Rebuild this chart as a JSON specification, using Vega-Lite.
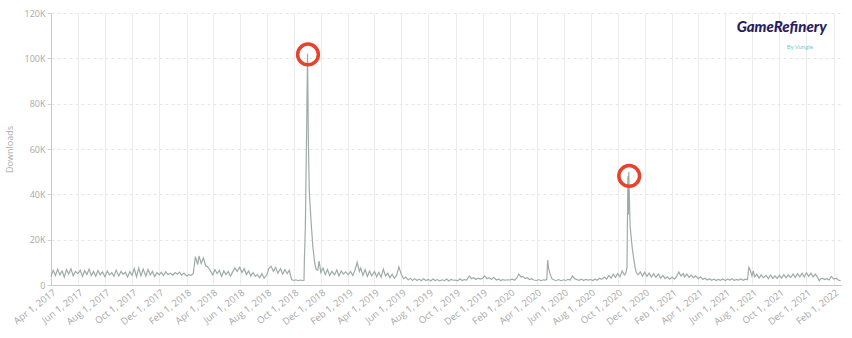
{
"$schema": "https://vega.github.io/schema/vega-lite/v6.json",
"width": 790,
"height": 272,
"padding": {"left": 5, "top": 9, "right": 10, "bottom": 0},
"background": "white",
"config": {"view": {"stroke": null}, "font": "Open Sans"},
"datasets": {
"dl": [
{"d":"2017-04-01","v":3800},{"d":"2017-04-06","v":6500},{"d":"2017-04-11","v":4200},{"d":"2017-04-16","v":7000},{"d":"2017-04-21","v":4500},{"d":"2017-04-26","v":6200},
{"d":"2017-05-01","v":3500},{"d":"2017-05-06","v":6800},{"d":"2017-05-11","v":4800},{"d":"2017-05-16","v":7200},{"d":"2017-05-21","v":4000},{"d":"2017-05-26","v":6000},
{"d":"2017-06-01","v":5000},{"d":"2017-06-06","v":6500},{"d":"2017-06-11","v":3800},{"d":"2017-06-16","v":6300},{"d":"2017-06-21","v":4600},{"d":"2017-06-26","v":7000},
{"d":"2017-07-01","v":4200},{"d":"2017-07-06","v":6000},{"d":"2017-07-11","v":3900},{"d":"2017-07-16","v":6400},{"d":"2017-07-21","v":4500},{"d":"2017-07-26","v":5800},
{"d":"2017-08-01","v":3600},{"d":"2017-08-06","v":6200},{"d":"2017-08-11","v":4400},{"d":"2017-08-16","v":5500},{"d":"2017-08-21","v":3800},{"d":"2017-08-26","v":6600},
{"d":"2017-09-01","v":4000},{"d":"2017-09-06","v":6000},{"d":"2017-09-11","v":4700},{"d":"2017-09-16","v":5600},{"d":"2017-09-21","v":3500},{"d":"2017-09-26","v":5900},
{"d":"2017-10-01","v":4300},{"d":"2017-10-06","v":7200},{"d":"2017-10-11","v":3600},{"d":"2017-10-16","v":7500},{"d":"2017-10-21","v":4100},{"d":"2017-10-26","v":7000},
{"d":"2017-11-01","v":3900},{"d":"2017-11-06","v":6800},{"d":"2017-11-11","v":4400},{"d":"2017-11-16","v":6000},{"d":"2017-11-21","v":3700},{"d":"2017-11-26","v":5500},
{"d":"2017-12-01","v":4500},{"d":"2017-12-06","v":5600},{"d":"2017-12-11","v":4200},{"d":"2017-12-16","v":5800},{"d":"2017-12-21","v":4600},{"d":"2017-12-26","v":5200},
{"d":"2018-01-01","v":4300},{"d":"2018-01-06","v":5500},{"d":"2018-01-11","v":4800},{"d":"2018-01-16","v":5700},{"d":"2018-01-21","v":4400},{"d":"2018-01-26","v":5300},
{"d":"2018-02-01","v":4000},{"d":"2018-02-06","v":4600},{"d":"2018-02-11","v":4300},{"d":"2018-02-16","v":5000},{"d":"2018-02-21","v":12500},{"d":"2018-02-26","v":9000},
{"d":"2018-03-01","v":12800},{"d":"2018-03-06","v":9500},{"d":"2018-03-11","v":12000},{"d":"2018-03-16","v":8500},{"d":"2018-03-21","v":8000},{"d":"2018-03-26","v":6500},
{"d":"2018-04-01","v":4500},{"d":"2018-04-06","v":6800},{"d":"2018-04-11","v":5000},{"d":"2018-04-16","v":6500},{"d":"2018-04-21","v":3800},{"d":"2018-04-26","v":6200},
{"d":"2018-05-01","v":4600},{"d":"2018-05-06","v":6000},{"d":"2018-05-11","v":3900},{"d":"2018-05-16","v":5800},{"d":"2018-05-21","v":7500},{"d":"2018-05-26","v":6000},
{"d":"2018-06-01","v":7800},{"d":"2018-06-06","v":5500},{"d":"2018-06-11","v":7200},{"d":"2018-06-16","v":4600},{"d":"2018-06-21","v":6200},{"d":"2018-06-26","v":4000},
{"d":"2018-07-01","v":5500},{"d":"2018-07-06","v":3800},{"d":"2018-07-11","v":4600},{"d":"2018-07-16","v":3200},{"d":"2018-07-21","v":5000},{"d":"2018-07-26","v":3000},
{"d":"2018-08-01","v":4500},{"d":"2018-08-06","v":7500},{"d":"2018-08-11","v":8200},{"d":"2018-08-16","v":6000},{"d":"2018-08-21","v":7800},{"d":"2018-08-26","v":5200},
{"d":"2018-09-01","v":7200},{"d":"2018-09-06","v":4800},{"d":"2018-09-11","v":6800},{"d":"2018-09-16","v":5000},{"d":"2018-09-21","v":6500},{"d":"2018-09-26","v":2400},
{"d":"2018-10-01","v":2000},{"d":"2018-10-06","v":2300},{"d":"2018-10-11","v":1900},{"d":"2018-10-16","v":2200},{"d":"2018-10-21","v":2000},{"d":"2018-10-24","v":2100},{"d":"2018-10-25","v":12000},{"d":"2018-10-27","v":25000},{"d":"2018-10-30","v":69000},
{"d":"2018-11-01","v":102000},{"d":"2018-11-03","v":62000},{"d":"2018-11-05","v":41000},{"d":"2018-11-08","v":31000},{"d":"2018-11-10","v":25000},{"d":"2018-11-13","v":17000},{"d":"2018-11-17","v":10000},{"d":"2018-11-20","v":7000},{"d":"2018-11-24","v":6500},{"d":"2018-11-27","v":10500},{"d":"2018-11-30","v":7000},
{"d":"2018-12-01","v":5500},{"d":"2018-12-06","v":7500},{"d":"2018-12-11","v":4600},{"d":"2018-12-16","v":6800},{"d":"2018-12-21","v":4200},{"d":"2018-12-26","v":6000},
{"d":"2019-01-01","v":4500},{"d":"2019-01-06","v":6600},{"d":"2019-01-11","v":4000},{"d":"2019-01-16","v":6200},{"d":"2019-01-21","v":4800},{"d":"2019-01-26","v":5800},
{"d":"2019-02-01","v":4500},{"d":"2019-02-06","v":6000},{"d":"2019-02-11","v":4200},{"d":"2019-02-16","v":6500},{"d":"2019-02-21","v":10000},{"d":"2019-02-26","v":6000},
{"d":"2019-03-01","v":7500},{"d":"2019-03-06","v":4200},{"d":"2019-03-11","v":6800},{"d":"2019-03-16","v":3800},{"d":"2019-03-21","v":6200},{"d":"2019-03-26","v":4000},
{"d":"2019-04-01","v":6000},{"d":"2019-04-06","v":3600},{"d":"2019-04-11","v":5600},{"d":"2019-04-16","v":3400},{"d":"2019-04-21","v":7000},{"d":"2019-04-26","v":4000},
{"d":"2019-05-01","v":5200},{"d":"2019-05-06","v":3200},{"d":"2019-05-11","v":4800},{"d":"2019-05-16","v":3000},{"d":"2019-05-21","v":4200},{"d":"2019-05-26","v":8000},
{"d":"2019-06-01","v":4500},{"d":"2019-06-06","v":2800},{"d":"2019-06-11","v":3500},{"d":"2019-06-16","v":2200},{"d":"2019-06-21","v":3000},{"d":"2019-06-26","v":2000},
{"d":"2019-07-01","v":2800},{"d":"2019-07-06","v":2000},{"d":"2019-07-11","v":2600},{"d":"2019-07-16","v":1900},{"d":"2019-07-21","v":2700},{"d":"2019-07-26","v":2000},
{"d":"2019-08-01","v":2500},{"d":"2019-08-06","v":1800},{"d":"2019-08-11","v":2600},{"d":"2019-08-16","v":2000},{"d":"2019-08-21","v":2400},{"d":"2019-08-26","v":1800},
{"d":"2019-09-01","v":2300},{"d":"2019-09-06","v":1900},{"d":"2019-09-11","v":2600},{"d":"2019-09-16","v":1800},{"d":"2019-09-21","v":2500},{"d":"2019-09-26","v":2100},
{"d":"2019-10-01","v":2200},{"d":"2019-10-06","v":1800},{"d":"2019-10-11","v":2700},{"d":"2019-10-16","v":2000},{"d":"2019-10-21","v":2400},{"d":"2019-10-26","v":2200},
{"d":"2019-11-01","v":4000},{"d":"2019-11-06","v":2800},{"d":"2019-11-11","v":3200},{"d":"2019-11-16","v":2400},{"d":"2019-11-21","v":3000},{"d":"2019-11-26","v":2600},
{"d":"2019-12-01","v":3000},{"d":"2019-12-06","v":4000},{"d":"2019-12-11","v":2800},{"d":"2019-12-16","v":3200},{"d":"2019-12-21","v":2400},{"d":"2019-12-26","v":3400},
{"d":"2020-01-01","v":2200},{"d":"2020-01-06","v":2600},{"d":"2020-01-11","v":2000},{"d":"2020-01-16","v":2400},{"d":"2020-01-21","v":2100},{"d":"2020-01-26","v":2300},
{"d":"2020-02-01","v":2200},{"d":"2020-02-06","v":2600},{"d":"2020-02-11","v":2100},{"d":"2020-02-16","v":3000},{"d":"2020-02-21","v":4800},{"d":"2020-02-26","v":3500},
{"d":"2020-03-01","v":3800},{"d":"2020-03-06","v":2800},{"d":"2020-03-11","v":3200},{"d":"2020-03-16","v":2400},{"d":"2020-03-21","v":2800},{"d":"2020-03-26","v":2200},
{"d":"2020-04-01","v":2000},{"d":"2020-04-06","v":2400},{"d":"2020-04-11","v":1900},{"d":"2020-04-16","v":2300},{"d":"2020-04-21","v":2200},{"d":"2020-04-24","v":2500},{"d":"2020-04-26","v":11000},{"d":"2020-04-28","v":7500},
{"d":"2020-05-01","v":5000},{"d":"2020-05-06","v":2600},{"d":"2020-05-11","v":2200},{"d":"2020-05-16","v":2000},{"d":"2020-05-21","v":2400},{"d":"2020-05-26","v":1900},
{"d":"2020-06-01","v":2300},{"d":"2020-06-06","v":2000},{"d":"2020-06-11","v":2500},{"d":"2020-06-16","v":2200},{"d":"2020-06-21","v":4000},{"d":"2020-06-26","v":2800},
{"d":"2020-07-01","v":2400},{"d":"2020-07-06","v":2100},{"d":"2020-07-11","v":2600},{"d":"2020-07-16","v":2000},{"d":"2020-07-21","v":2500},{"d":"2020-07-26","v":2200},
{"d":"2020-08-01","v":2400},{"d":"2020-08-06","v":2000},{"d":"2020-08-11","v":2600},{"d":"2020-08-16","v":2100},{"d":"2020-08-21","v":3000},{"d":"2020-08-26","v":2500},
{"d":"2020-09-01","v":3500},{"d":"2020-09-06","v":2600},{"d":"2020-09-11","v":4200},{"d":"2020-09-16","v":3000},{"d":"2020-09-21","v":4800},{"d":"2020-09-26","v":3400},
{"d":"2020-10-01","v":5000},{"d":"2020-10-06","v":3600},{"d":"2020-10-11","v":6200},{"d":"2020-10-16","v":4400},{"d":"2020-10-19","v":5000},{"d":"2020-10-22","v":7600},{"d":"2020-10-24","v":48000},{"d":"2020-10-25","v":31000},{"d":"2020-10-26","v":50000},{"d":"2020-10-27","v":42000},{"d":"2020-10-29","v":26000},{"d":"2020-10-31","v":22000},
{"d":"2020-11-03","v":16000},{"d":"2020-11-06","v":12000},{"d":"2020-11-09","v":8000},{"d":"2020-11-12","v":5500},{"d":"2020-11-16","v":4500},{"d":"2020-11-21","v":5800},{"d":"2020-11-26","v":4000},
{"d":"2020-12-01","v":5600},{"d":"2020-12-06","v":3800},{"d":"2020-12-11","v":5200},{"d":"2020-12-16","v":3500},{"d":"2020-12-21","v":5000},{"d":"2020-12-26","v":3400},
{"d":"2021-01-01","v":4800},{"d":"2021-01-06","v":3000},{"d":"2021-01-11","v":4200},{"d":"2021-01-16","v":2800},{"d":"2021-01-21","v":3600},{"d":"2021-01-26","v":2600},
{"d":"2021-02-01","v":3400},{"d":"2021-02-06","v":2600},{"d":"2021-02-11","v":3800},{"d":"2021-02-16","v":5700},{"d":"2021-02-21","v":4000},{"d":"2021-02-26","v":5000},
{"d":"2021-03-01","v":3600},{"d":"2021-03-06","v":4800},{"d":"2021-03-11","v":3400},{"d":"2021-03-16","v":4400},{"d":"2021-03-21","v":3200},{"d":"2021-03-26","v":4000},
{"d":"2021-04-01","v":2800},{"d":"2021-04-06","v":3600},{"d":"2021-04-11","v":2400},{"d":"2021-04-16","v":3000},{"d":"2021-04-21","v":2200},{"d":"2021-04-26","v":2800},
{"d":"2021-05-01","v":2100},{"d":"2021-05-06","v":2600},{"d":"2021-05-11","v":2000},{"d":"2021-05-16","v":2500},{"d":"2021-05-21","v":2100},{"d":"2021-05-26","v":2700},
{"d":"2021-06-01","v":2000},{"d":"2021-06-06","v":2600},{"d":"2021-06-11","v":2200},{"d":"2021-06-16","v":2800},{"d":"2021-06-21","v":2000},{"d":"2021-06-26","v":2500},
{"d":"2021-07-01","v":2200},{"d":"2021-07-06","v":2700},{"d":"2021-07-11","v":2100},{"d":"2021-07-16","v":2600},{"d":"2021-07-21","v":2300},{"d":"2021-07-24","v":7800},{"d":"2021-07-27","v":6600},{"d":"2021-07-31","v":4000},
{"d":"2021-08-03","v":6200},{"d":"2021-08-06","v":3600},{"d":"2021-08-11","v":4800},{"d":"2021-08-16","v":3000},{"d":"2021-08-21","v":4500},{"d":"2021-08-26","v":3200},
{"d":"2021-09-01","v":4200},{"d":"2021-09-06","v":2800},{"d":"2021-09-11","v":4400},{"d":"2021-09-16","v":3000},{"d":"2021-09-21","v":4000},{"d":"2021-09-26","v":2900},
{"d":"2021-10-01","v":4300},{"d":"2021-10-06","v":3000},{"d":"2021-10-11","v":4600},{"d":"2021-10-16","v":3200},{"d":"2021-10-21","v":4500},{"d":"2021-10-26","v":3300},
{"d":"2021-11-01","v":4800},{"d":"2021-11-06","v":3400},{"d":"2021-11-11","v":5000},{"d":"2021-11-16","v":3600},{"d":"2021-11-21","v":5200},{"d":"2021-11-26","v":3500},
{"d":"2021-12-01","v":5400},{"d":"2021-12-06","v":3800},{"d":"2021-12-11","v":5200},{"d":"2021-12-16","v":3600},{"d":"2021-12-21","v":4800},{"d":"2021-12-26","v":3400},{"d":"2021-12-30","v":1900},
{"d":"2022-01-01","v":2600},{"d":"2022-01-06","v":3000},{"d":"2022-01-11","v":2400},{"d":"2022-01-16","v":2800},{"d":"2022-01-21","v":2200},{"d":"2022-01-26","v":3800},
{"d":"2022-02-01","v":2600},{"d":"2022-02-06","v":3000},{"d":"2022-02-11","v":2200},{"d":"2022-02-16","v":1800}
],
"rings": [
{"d":"2018-11-02","v":101700},
{"d":"2020-10-27","v":48100}
]
},
"layer": [
{
"data": {"name": "dl"},
"mark": {"type": "line", "color": "#9eaca6", "strokeWidth": 1.2},
"encoding": {
"x": {"field": "d", "type": "temporal",
"scale": {"type": "utc", "domain": [{"year": 2017, "month": 4, "date": 1, "utc": true}, {"year": 2022, "month": 2, "date": 17, "utc": true}]},
"axis": {
"title": null,
"tickCount": 60,
"values": [
{"year":2017,"month":4,"date":1,"utc":true},{"year":2017,"month":6,"date":1,"utc":true},{"year":2017,"month":8,"date":1,"utc":true},{"year":2017,"month":10,"date":1,"utc":true},{"year":2017,"month":12,"date":1,"utc":true},
{"year":2018,"month":2,"date":1,"utc":true},{"year":2018,"month":4,"date":1,"utc":true},{"year":2018,"month":6,"date":1,"utc":true},{"year":2018,"month":8,"date":1,"utc":true},{"year":2018,"month":10,"date":1,"utc":true},{"year":2018,"month":12,"date":1,"utc":true},
{"year":2019,"month":2,"date":1,"utc":true},{"year":2019,"month":4,"date":1,"utc":true},{"year":2019,"month":6,"date":1,"utc":true},{"year":2019,"month":8,"date":1,"utc":true},{"year":2019,"month":10,"date":1,"utc":true},{"year":2019,"month":12,"date":1,"utc":true},
{"year":2020,"month":2,"date":1,"utc":true},{"year":2020,"month":4,"date":1,"utc":true},{"year":2020,"month":6,"date":1,"utc":true},{"year":2020,"month":8,"date":1,"utc":true},{"year":2020,"month":10,"date":1,"utc":true},{"year":2020,"month":12,"date":1,"utc":true},
{"year":2021,"month":2,"date":1,"utc":true},{"year":2021,"month":4,"date":1,"utc":true},{"year":2021,"month":6,"date":1,"utc":true},{"year":2021,"month":8,"date":1,"utc":true},{"year":2021,"month":10,"date":1,"utc":true},{"year":2021,"month":12,"date":1,"utc":true},
{"year":2022,"month":2,"date":1,"utc":true}
],
"labelExpr": "utcFormat(datum.value, '%b %-d, %Y')",
"labelAngle": -38,
"labelAlign": "right",
"labelBaseline": "top",
"labelFontSize": 9.5,
"labelColor": "#a8a8a8",
"labelPadding": 2,
"labelOverlap": false,
"labelBound": false,
"grid": true,
"gridColor": "#ececec",
"domainColor": "#c8c8c8",
"ticks": false
}
},
"y": {"field": "v", "type": "quantitative",
"scale": {"domain": [0, 120000], "nice": false},
"axis": {
"title": "Downloads",
"titleFontSize": 9,
"titleFontWeight": "normal",
"titleColor": "#aaaaaa",
"titlePadding": 10,
"values": [0, 20000, 40000, 60000, 80000, 100000, 120000],
"labelExpr": "datum.value == 0 ? '0' : (datum.value / 1000) + 'K'",
"labelFontSize": 9,
"labelColor": "#a8a8a8",
"labelPadding": 2,
"grid": true,
"gridColor": "#e6e6e6",
"gridDash": [3, 3],
"domainColor": "#c8c8c8",
"tickColor": "#d0d0d0",
"tickSize": 4
}
}
}
},
{
"data": {"name": "rings"},
"mark": {"type": "point", "shape": "circle", "filled": false, "stroke": "#e5432d", "strokeWidth": 3.5, "size": 430, "opacity": 1},
"encoding": {
"x": {"field": "d", "type": "temporal"},
"y": {"field": "v", "type": "quantitative"}
}
},
{
"data": {"values": [{}]},
"mark": {"type": "text", "text": "GameRefinery", "font": "Lato", "fontSize": 15, "fontWeight": 900, "fontStyle": "italic", "color": "#2a1d5c", "align": "center", "baseline": "alphabetic"},
"encoding": {
"x": {"datum": {"year": 2021, "month": 10, "date": 6, "utc": true}, "type": "temporal"},
"y": {"datum": 111600, "type": "quantitative"}
}
},
{
"data": {"values": [{}]},
"mark": {"type": "text", "text": "By Vungle", "font": "Lato", "fontSize": 6, "color": "#6ccfd0", "align": "center", "baseline": "middle"},
"encoding": {
"x": {"datum": {"year": 2021, "month": 11, "date": 16, "utc": true}, "type": "temporal"},
"y": {"datum": 105200, "type": "quantitative"}
}
}
]
}
